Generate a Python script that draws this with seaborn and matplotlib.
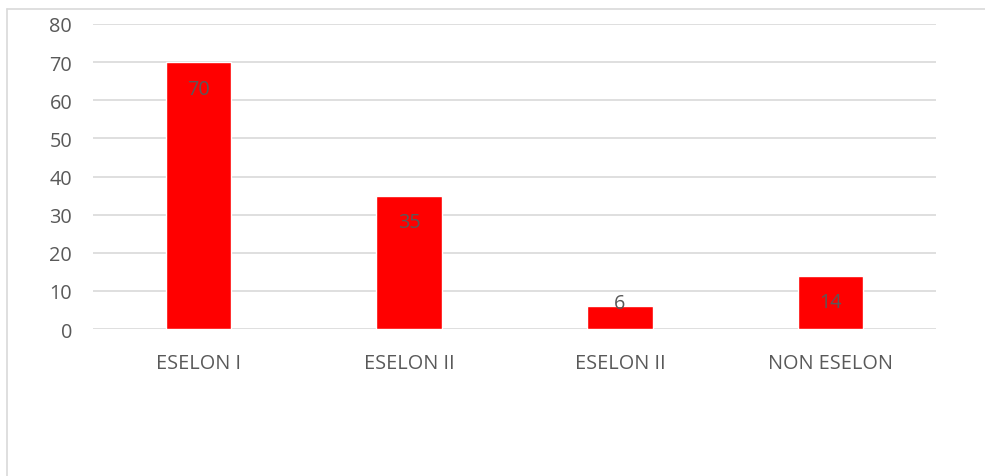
import matplotlib
matplotlib.use("Agg")
import matplotlib.pyplot as plt
import seaborn as sns
import pandas as pd
from matplotlib.lines import Line2D

categories = ["ESELON I", "ESELON II", "ESELON II ", "NON ESELON"]
values = [70, 35, 6, 14]
tick_labels = ["ESELON I", "ESELON II", "ESELON II", "NON ESELON"]

sns.set_style("white")
plt.rcParams["font.family"] = ["Open Sans", "DejaVu Sans"]

df = pd.DataFrame({"cat": categories, "val": values})

fig = plt.figure(figsize=(9.85, 4.77), dpi=100)
ax = fig.add_axes([93 / 985, 147 / 477, (936 - 93) / 985, (330 - 25) / 477])

sns.barplot(data=df, x="cat", y="val", color="#ff0000", saturation=1, width=0.31, ax=ax, zorder=3)

ax.set_ylim(0, 80)
ax.set_yticks(range(0, 81, 10))
ax.grid(axis="y", color="#d9d9d9", linewidth=1.2, zorder=0)
ax.set_axisbelow(True)
for s in ax.spines.values():
    s.set_visible(False)
ax.tick_params(axis="both", length=0, labelsize=14.3, labelcolor="#595959")
ax.tick_params(axis="y", pad=15)
ax.tick_params(axis="x", pad=17)
ax.set_xticks(range(len(tick_labels)))
ax.set_xticklabels(tick_labels)
ax.set_xlabel("")
ax.set_ylabel("")

# labels inside the bar end; short bars get the label at the top edge
for i, v in enumerate(values):
    off = -19 if v > 10 else 2
    ax.annotate(str(v), (i, v), xytext=(0, off), textcoords="offset points",
                ha="center", va="center", fontsize=14.3, color="#595959", zorder=4)

# chart frame
fig.add_artist(Line2D([7 / 985, 7 / 985], [0, 1 - 10 / 477], color="#d9d9d9", lw=1.2))
fig.add_artist(Line2D([7 / 985, 1], [1 - 10 / 477, 1 - 10 / 477], color="#d9d9d9", lw=1.2))

fig.savefig("out.png", dpi=100)
